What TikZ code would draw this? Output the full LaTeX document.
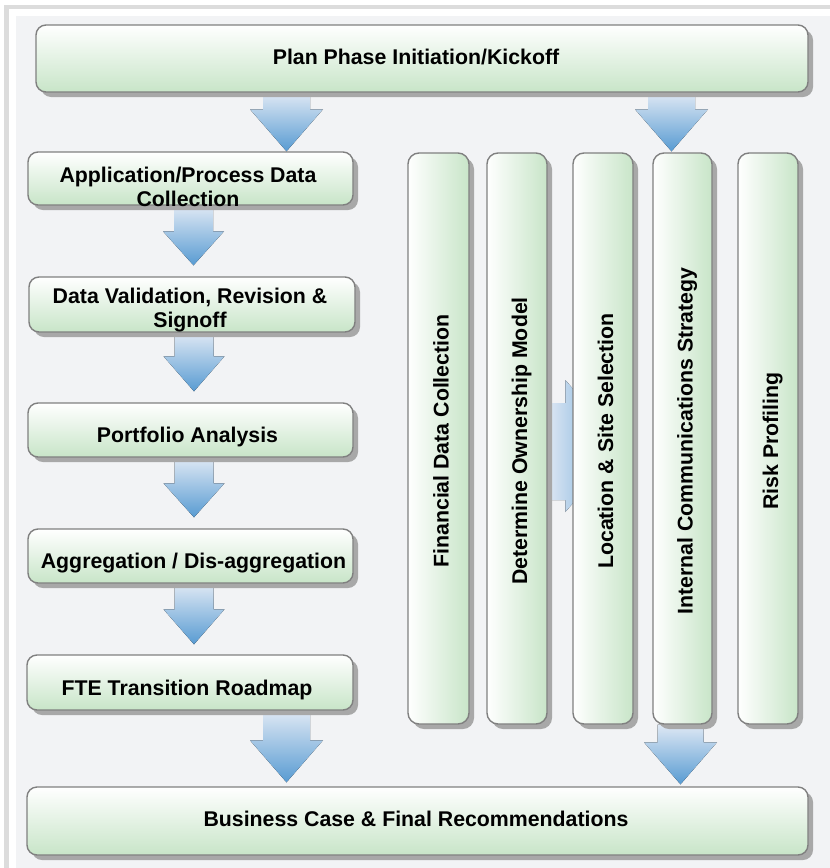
\documentclass[tikz,border=0pt]{standalone}
\usepackage{fontspec}
\setmainfont{Liberation Sans}
\usetikzlibrary{calc,shadows}

\definecolor{framegray}{RGB}{220,220,220}
\definecolor{canvasbg}{RGB}{242,243,245}
\definecolor{boxgreen}{RGB}{200,229,200}
\definecolor{boxline}{RGB}{128,128,128}
\definecolor{shadowgray}{RGB}{168,168,168}
\definecolor{arrowtop}{RGB}{222,232,244}
\definecolor{arrowbot}{RGB}{88,155,210}

\pgfdeclarelayer{back}
\pgfdeclarelayer{flow}
\pgfsetlayers{back,flow,main}

\tikzset{
  boxshadow/.style={general shadow={fill=shadowgray, shadow xshift=5pt, shadow yshift=-5pt}},
  hbox/.style={draw=boxline, line width=1.4pt, rounded corners=10pt,
    top color=white, bottom color=boxgreen, inner sep=0pt, boxshadow},
  vbox/.style={draw=boxline, line width=1.4pt, rounded corners=11pt,
    left color=white, right color=boxgreen, inner sep=0pt, boxshadow,
    minimum height=571pt},
  label/.style={font=\bfseries\fontsize{21.3}{24}\selectfont, inner sep=0pt, align=center},
  vlabel/.style={label, rotate=90, anchor=base},
  downfill/.style={top color=arrowtop, bottom color=arrowbot},
  rightfill/.style={left color=arrowtop, right color=arrowbot},
}

% block arrow pointing down: source, target, x, half shaft, half head, head length, gap
\newcommand\downblock[7]{%
  \fill[downfill] let \p1=(#1.south), \p2=(#2.north) in
    (#3pt-#4pt,\y1) -- (#3pt+#4pt,\y1)
    -- (#3pt+#4pt,\y2+#7pt+#6pt) -- (#3pt+#5pt,\y2+#7pt+#6pt)
    -- (#3pt,\y2+#7pt)
    -- (#3pt-#5pt,\y2+#7pt+#6pt) -- (#3pt-#4pt,\y2+#7pt+#6pt) -- cycle;}

\begin{document}
\begin{tikzpicture}[x=1pt,y=-1pt]
\useasboundingbox (0,0) rectangle (830,868);

% page frame and canvas
\begin{pgfonlayer}{back}
  \fill[framegray] (4,5) rectangle (830,868);
  \fill[white] (9,9) rectangle (830,868);
  \fill[canvasbg] (16,16) rectangle (830,868);
\end{pgfonlayer}

% horizontal boxes
\node[hbox, minimum width=772pt, minimum height=67pt] (kick) at (422,58.5) {};
\node[hbox, minimum width=325pt, minimum height=53pt] (app)  at (190.5,178.5) {};
\node[hbox, minimum width=326pt, minimum height=55pt] (dval) at (192,304.5) {};
\node[hbox, minimum width=325pt, minimum height=54pt] (port) at (190.5,430) {};
\node[hbox, minimum width=325pt, minimum height=54pt] (aggr) at (190.5,556) {};
\node[hbox, minimum width=326pt, minimum height=55pt] (fte)  at (190,682.5) {};
\node[hbox, minimum width=781pt, minimum height=68pt] (biz)  at (417.5,821) {};

% vertical work streams
\node[vbox, minimum width=61pt] (fin)  at (438.5,438.5) {};
\node[vbox, minimum width=60pt] (own)  at (517,438.5) {};
\node[vbox, minimum width=60pt] (loc)  at (603,438.5) {};
\node[vbox, minimum width=59pt] (comm) at (682.5,438.5) {};
\node[vbox, minimum width=60pt] (risk) at (768,438.5) {};

% labels
\node[label, anchor=base] (kick-t) at (416,64) {Plan Phase Initiation/Kickoff};
\node[label] (app-t)  at (188,186.5) {Application/Process Data\\Collection};
\node[label] (dval-t) at (190,310.5) {Data Validation, Revision \&\\Signoff};
\node[label, anchor=base] (port-t) at (187.5,442) {Portfolio Analysis};
\node[label, anchor=base] (aggr-t) at (193.5,568) {Aggregation / Dis-aggregation};
\node[label, anchor=base] (fte-t)  at (187,695) {FTE Transition Roadmap};
\node[label, anchor=base] (biz-t)  at (416,826) {Business Case \& Final Recommendations};

\node[vlabel] (fin-t)  at ($(fin.center)+(10,2.5)$)  {Financial Data Collection};
\node[vlabel] (own-t)  at ($(own.center)+(10,2.5)$)  {Determine Ownership Model};
\node[vlabel] (loc-t)  at ($(loc.center)+(10,2.5)$)  {Location \& Site Selection};
\node[vlabel] (comm-t) at ($(comm.center)+(10,2.5)$) {Internal Communications Strategy};
\node[vlabel] (risk-t) at ($(risk.center)+(10,2.5)$) {Risk Profiling};

% flow arrows, kept behind the boxes
\begin{pgfonlayer}{flow}
  \downblock{kick}{app}{286.5}{23.5}{36.5}{42}{0}
  \downblock{kick}{comm}{671.5}{23.5}{36.5}{42}{1}
  \downblock{app}{dval}{193.5}{19.5}{30.5}{34}{11}
  \downblock{dval}{port}{194}{19.5}{30.5}{35}{11}
  \downblock{port}{aggr}{194}{19.5}{30.5}{34}{11}
  \downblock{aggr}{fte}{194}{19.5}{30.5}{35}{10}
  \downblock{fte}{biz}{286.5}{23.5}{36.5}{42}{4}
  \downblock{comm}{biz}{680.5}{23}{36.5}{42}{2}
  % sideways hand-off from ownership model to site selection
  \fill[rightfill] let \p1=(own.east), \p2=(loc.west) in
    (\x1,-403pt) -- (\x2-7pt,-403pt) -- (\x2-7pt,-380pt) -- (\x2+50pt,-446pt)
    -- (\x2-7pt,-512pt) -- (\x2-7pt,-500pt) -- (\x1,-500pt) -- cycle;
\end{pgfonlayer}
\end{tikzpicture}
\end{document}
